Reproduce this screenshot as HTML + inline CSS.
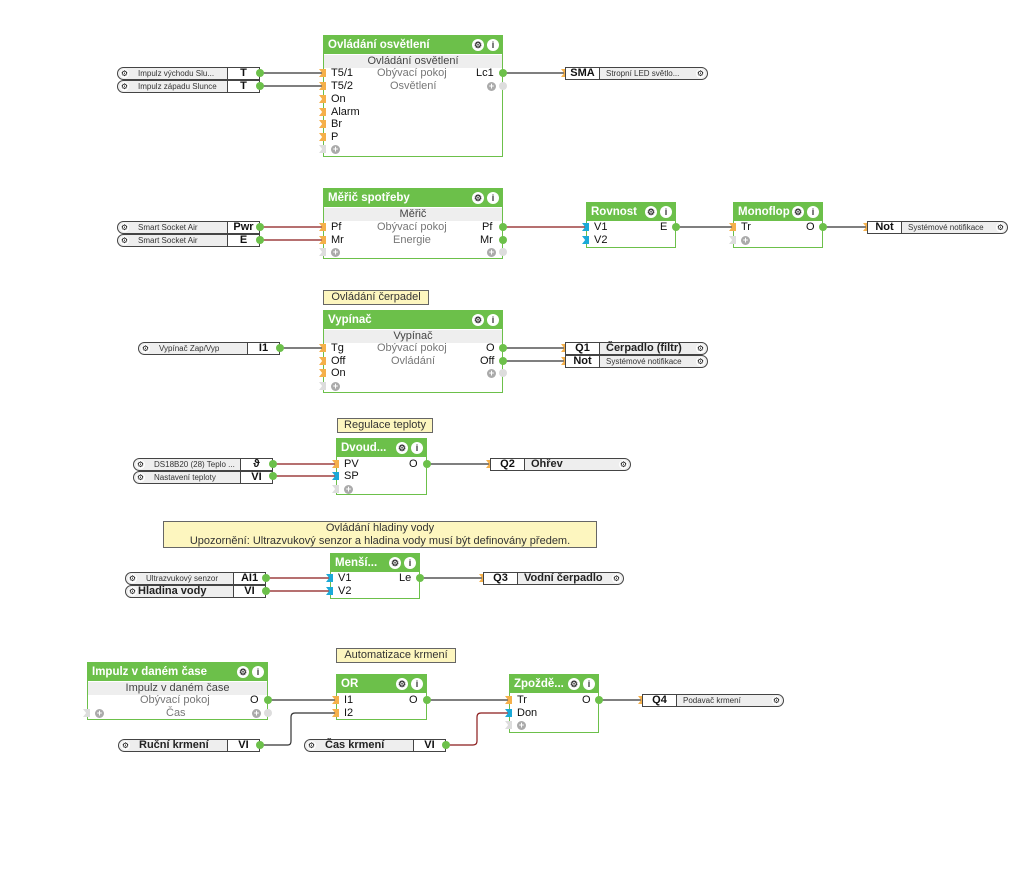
<!DOCTYPE html>
<html><head><meta charset="utf-8"><style>
body{margin:0;width:1032px;height:870px;background:#fff;position:relative;overflow:hidden;font-family:"Liberation Sans",sans-serif;color:#111}
div,span{box-sizing:border-box}
.b{position:absolute;border:1px solid #6cc04a;background:#fff}
.h{position:absolute;left:0;right:0;top:0;height:18px;background:#6cc04a;color:#fff;font-weight:bold;font-size:11.5px;line-height:18px;padding-left:4px;white-space:nowrap}
.ic{position:absolute;top:3px;width:12px;height:12px;border-radius:50%;background:#fff;color:#333;font-size:9px;line-height:12px;text-align:center;font-weight:bold}
.sub{position:absolute;left:0;right:0;height:13px;background:#eee;color:#444;font-size:11px;line-height:13px;text-align:center}
.t{position:absolute;font-size:11px;line-height:12px;white-space:nowrap}
.g{color:#777}
.pi{position:absolute;width:7px;height:8px;background:#f5b04a;clip-path:polygon(0 0,100% 0,100% 100%,0 100%,45% 50%)}
.pb{background:#1aa9d8}
.pg{background:#ddd}
.po{position:absolute;width:8px;height:8px;border-radius:50%;background:#6cc04a}
.pog{background:#ddd}
.plus{position:absolute;width:9px;height:9px;border-radius:50%;background:#aaa;color:#fff;font-size:9px;line-height:9px;text-align:center;font-weight:bold}
.in{position:absolute;height:13px;border:1px solid #444;border-radius:7px 0 0 7px;background:#eee;font-size:8px;line-height:11px;white-space:nowrap}
.in .gear,.out .gear{position:absolute;top:1px;width:9px;height:9px;border-radius:50%;background:#fff;font-size:8px;line-height:9px;text-align:center}
.in .n{position:absolute;left:20px;top:0;color:#333}
.in .l{position:absolute;right:0;top:0;height:11px;width:32px;border-left:1px solid #444;background:#fff;text-align:center;font-size:11px;font-weight:bold;line-height:11px}
.out{position:absolute;height:13px;border:1px solid #444;border-radius:0 7px 7px 0;background:#eee;font-size:8px;line-height:11px;white-space:nowrap}
.out .l{position:absolute;left:0;top:0;height:11px;width:34px;border-right:1px solid #444;background:#fff;text-align:center;font-size:11px;font-weight:bold;line-height:11px}
.out .n{position:absolute;left:40px;top:0;color:#333}
.bn{font-size:11px!important;font-weight:bold;line-height:11px;color:#222!important}
.cm{position:absolute;background:#fdf6bf;border:1px solid #666;font-size:11px;line-height:13px;text-align:center;color:#333}
</style></head><body>
<svg width="1032" height="870" style="position:absolute;left:0;top:0">
<g fill="none" stroke-width="1.2">
<path d="M260 73H323M260 86H323M502 73H565" stroke="#333"/>
<path d="M260 227H323M260 240H323" stroke="#8b1a1a"/>
<path d="M502 227H586" stroke="#8b1a1a"/>
<path d="M675 227H733M822 227H867" stroke="#333"/>
<path d="M280 348H323M502 348H565M502 361H565" stroke="#333"/>
<path d="M273 464H336M273 476H336" stroke="#8b1a1a"/>
<path d="M426 464H490" stroke="#333"/>
<path d="M266 578H330M266 591H330" stroke="#8b1a1a"/>
<path d="M419 578H483" stroke="#333"/>
<path d="M267 700H336M426 700H509M598 700H642" stroke="#333"/>
<path d="M260 745H288Q291 745 291 741V717Q291 713 295 713H336" stroke="#333"/>
<path d="M446 745H473Q477 745 477 741V717Q477 713 481 713H509" stroke="#8b1a1a"/>
</g></svg>

<!-- Block 1 -->
<div class="b" style="left:323px;top:35px;width:180px;height:122px">
<div class="h">Ovládání osvětlení<span class="ic" style="right:18px">⚙</span><span class="ic" style="right:3px">i</span></div>
<div class="sub" style="top:19px">Ovládání osvětlení</div></div>
<span class="t" style="left:331px;top:67px">T5/1</span><span class="t g" style="left:377px;top:67px">Obývací pokoj</span><span class="t" style="left:476px;top:67px">Lc1</span>
<span class="t" style="left:331px;top:80px">T5/2</span><span class="t g" style="left:390px;top:80px">Osvětlení</span>
<span class="t" style="left:331px;top:93px">On</span><span class="t" style="left:331px;top:106px">Alarm</span><span class="t" style="left:331px;top:118px">Br</span><span class="t" style="left:331px;top:131px">P</span>
<div class="pi" style="left:319px;top:69px"></div><div class="pi" style="left:319px;top:82px"></div><div class="pi" style="left:319px;top:95px"></div><div class="pi" style="left:319px;top:108px"></div><div class="pi" style="left:319px;top:120px"></div><div class="pi" style="left:319px;top:133px"></div><div class="pi pg" style="left:319px;top:145px"></div>
<div class="plus" style="left:331px;top:145px">+</div><div class="plus" style="left:487px;top:82px">+</div>
<div class="po" style="left:499px;top:69px"></div><div class="po pog" style="left:499px;top:82px"></div>
<div class="in" style="left:117px;top:67px;width:143px"><span class="gear" style="left:2px">⚙</span><span class="n">Impulz  východu  Slu...</span><span class="l">T</span></div>
<div class="in" style="left:117px;top:80px;width:143px"><span class="gear" style="left:2px">⚙</span><span class="n">Impulz západu Slunce</span><span class="l">T</span></div>
<div class="po" style="left:256px;top:69px"></div><div class="po" style="left:256px;top:82px"></div>
<div class="pi" style="left:561px;top:69px"></div>
<div class="out" style="left:565px;top:67px;width:143px"><span class="l">SMA</span><span class="n">Stropní  LED  světlo...</span><span class="gear" style="right:2px">⚙</span></div>

<!-- Block 2 -->
<div class="b" style="left:323px;top:188px;width:180px;height:71px">
<div class="h">Měřič spotřeby<span class="ic" style="right:18px">⚙</span><span class="ic" style="right:3px">i</span></div>
<div class="sub" style="top:19px">Měřič</div></div>
<span class="t" style="left:331px;top:221px">Pf</span><span class="t g" style="left:377px;top:221px">Obývací pokoj</span><span class="t" style="left:482px;top:221px">Pf</span>
<span class="t" style="left:331px;top:234px">Mr</span><span class="t g" style="left:393px;top:234px">Energie</span><span class="t" style="left:480px;top:234px">Mr</span>
<div class="pi" style="left:319px;top:223px"></div><div class="pi" style="left:319px;top:236px"></div><div class="pi pg" style="left:319px;top:248px"></div>
<div class="plus" style="left:331px;top:248px">+</div><div class="plus" style="left:487px;top:248px">+</div>
<div class="po" style="left:499px;top:223px"></div><div class="po" style="left:499px;top:236px"></div><div class="po pog" style="left:499px;top:248px"></div>
<div class="in" style="left:117px;top:221px;width:143px"><span class="gear" style="left:2px">⚙</span><span class="n">Smart Socket Air</span><span class="l">Pwr</span></div>
<div class="in" style="left:117px;top:234px;width:143px"><span class="gear" style="left:2px">⚙</span><span class="n">Smart Socket Air</span><span class="l">E</span></div>
<div class="po" style="left:256px;top:223px"></div><div class="po" style="left:256px;top:236px"></div>

<div class="b" style="left:586px;top:202px;width:90px;height:46px">
<div class="h">Rovnost<span class="ic" style="right:18px">⚙</span><span class="ic" style="right:3px">i</span></div></div>
<span class="t" style="left:594px;top:221px">V1</span><span class="t" style="left:660px;top:221px">E</span><span class="t" style="left:594px;top:234px">V2</span>
<div class="pi pb" style="left:582px;top:223px"></div><div class="pi pb" style="left:582px;top:236px"></div><div class="po" style="left:672px;top:223px"></div>

<div class="b" style="left:733px;top:202px;width:90px;height:46px">
<div class="h">Monoflop<span class="ic" style="right:18px">⚙</span><span class="ic" style="right:3px">i</span></div></div>
<span class="t" style="left:741px;top:221px">Tr</span><span class="t" style="left:806px;top:221px">O</span>
<div class="plus" style="left:741px;top:236px">+</div>
<div class="pi" style="left:729px;top:223px"></div><div class="pi pg" style="left:729px;top:236px"></div><div class="po" style="left:819px;top:223px"></div>
<div class="pi" style="left:863px;top:223px"></div>
<div class="out" style="left:867px;top:221px;width:141px"><span class="l">Not</span><span class="n">Systémové notifikace</span><span class="gear" style="right:2px">⚙</span></div>

<!-- Block 3 -->
<div class="cm" style="left:323px;top:290px;width:106px;height:15px">Ovládání čerpadel</div>
<div class="b" style="left:323px;top:310px;width:180px;height:83px">
<div class="h">Vypínač<span class="ic" style="right:18px">⚙</span><span class="ic" style="right:3px">i</span></div>
<div class="sub" style="top:19px">Vypínač</div></div>
<span class="t" style="left:331px;top:342px">Tg</span><span class="t g" style="left:377px;top:342px">Obývací pokoj</span><span class="t" style="left:486px;top:342px">O</span>
<span class="t" style="left:331px;top:355px">Off</span><span class="t g" style="left:391px;top:355px">Ovládání</span><span class="t" style="left:480px;top:355px">Off</span>
<span class="t" style="left:331px;top:367px">On</span>
<div class="pi" style="left:319px;top:344px"></div><div class="pi" style="left:319px;top:357px"></div><div class="pi" style="left:319px;top:369px"></div><div class="pi pg" style="left:319px;top:382px"></div>
<div class="plus" style="left:331px;top:382px">+</div><div class="plus" style="left:487px;top:369px">+</div>
<div class="po" style="left:499px;top:344px"></div><div class="po" style="left:499px;top:357px"></div><div class="po pog" style="left:499px;top:369px"></div>
<div class="in" style="left:138px;top:342px;width:142px"><span class="gear" style="left:2px">⚙</span><span class="n">Vypínač Zap/Vyp</span><span class="l">I1</span></div>
<div class="po" style="left:276px;top:344px"></div>
<div class="pi" style="left:561px;top:344px"></div><div class="pi" style="left:561px;top:357px"></div>
<div class="out" style="left:565px;top:342px;width:143px"><span class="l">Q1</span><span class="n bn">Čerpadlo (filtr)</span><span class="gear" style="right:2px">⚙</span></div>
<div class="out" style="left:565px;top:355px;width:143px"><span class="l">Not</span><span class="n">Systémové notifikace</span><span class="gear" style="right:2px">⚙</span></div>

<!-- Block 4 -->
<div class="cm" style="left:337px;top:418px;width:96px;height:15px">Regulace teploty</div>
<div class="b" style="left:336px;top:438px;width:91px;height:57px">
<div class="h">Dvoud...<span class="ic" style="right:18px">⚙</span><span class="ic" style="right:3px">i</span></div></div>
<span class="t" style="left:344px;top:458px">PV</span><span class="t" style="left:409px;top:458px">O</span><span class="t" style="left:344px;top:470px">SP</span>
<div class="plus" style="left:344px;top:485px">+</div>
<div class="pi" style="left:332px;top:460px"></div><div class="pi pb" style="left:332px;top:472px"></div><div class="pi pg" style="left:332px;top:485px"></div><div class="po" style="left:423px;top:460px"></div>
<div class="in" style="left:133px;top:458px;width:140px"><span class="gear" style="left:2px">⚙</span><span class="n">DS18B20  (28)  Teplo ...</span><span class="l">ϑ</span></div>
<div class="in" style="left:133px;top:471px;width:140px"><span class="gear" style="left:2px">⚙</span><span class="n">Nastavení teploty</span><span class="l">VI</span></div>
<div class="po" style="left:269px;top:460px"></div><div class="po" style="left:269px;top:472px"></div>
<div class="pi" style="left:486px;top:460px"></div>
<div class="out" style="left:490px;top:458px;width:141px"><span class="l">Q2</span><span class="n bn">Ohřev</span><span class="gear" style="right:2px">⚙</span></div>

<!-- Block 5 -->
<div class="cm" style="left:163px;top:521px;width:434px;height:27px">Ovládání hladiny vody<br>Upozornění: Ultrazvukový senzor a hladina vody musí být definovány předem.</div>
<div class="b" style="left:330px;top:553px;width:90px;height:46px">
<div class="h">Menší...<span class="ic" style="right:18px">⚙</span><span class="ic" style="right:3px">i</span></div></div>
<span class="t" style="left:338px;top:572px">V1</span><span class="t" style="left:399px;top:572px">Le</span><span class="t" style="left:338px;top:585px">V2</span>
<div class="pi pb" style="left:326px;top:574px"></div><div class="pi pb" style="left:326px;top:587px"></div><div class="po" style="left:416px;top:574px"></div>
<div class="in" style="left:125px;top:572px;width:141px"><span class="gear" style="left:2px">⚙</span><span class="n">Ultrazvukový senzor</span><span class="l">AI1</span></div>
<div class="in" style="left:125px;top:585px;width:141px"><span class="gear" style="left:2px">⚙</span><span class="n bn" style="left:12px">Hladina vody</span><span class="l">VI</span></div>
<div class="po" style="left:262px;top:574px"></div><div class="po" style="left:262px;top:587px"></div>
<div class="pi" style="left:479px;top:574px"></div>
<div class="out" style="left:483px;top:572px;width:141px"><span class="l">Q3</span><span class="n bn">Vodní čerpadlo</span><span class="gear" style="right:2px">⚙</span></div>

<!-- Block 6 -->
<div class="cm" style="left:336px;top:648px;width:120px;height:15px">Automatizace krmení</div>
<div class="b" style="left:87px;top:662px;width:181px;height:58px">
<div class="h">Impulz v daném čase<span class="ic" style="right:18px">⚙</span><span class="ic" style="right:3px">i</span></div>
<div class="sub" style="top:19px">Impulz v daném čase</div></div>
<span class="t g" style="left:140px;top:694px">Obývací pokoj</span><span class="t" style="left:250px;top:694px">O</span>
<span class="t g" style="left:166px;top:707px">Čas</span>
<div class="plus" style="left:95px;top:709px">+</div><div class="plus" style="left:252px;top:709px">+</div>
<div class="pi pg" style="left:83px;top:709px"></div><div class="po" style="left:264px;top:696px"></div><div class="po pog" style="left:264px;top:709px"></div>

<div class="b" style="left:336px;top:674px;width:91px;height:46px">
<div class="h">OR<span class="ic" style="right:18px">⚙</span><span class="ic" style="right:3px">i</span></div></div>
<span class="t" style="left:344px;top:694px">I1</span><span class="t" style="left:409px;top:694px">O</span><span class="t" style="left:344px;top:707px">I2</span>
<div class="pi" style="left:332px;top:696px"></div><div class="pi" style="left:332px;top:709px"></div><div class="po" style="left:423px;top:696px"></div>

<div class="b" style="left:509px;top:674px;width:90px;height:59px">
<div class="h">Zpoždě...<span class="ic" style="right:18px">⚙</span><span class="ic" style="right:3px">i</span></div></div>
<span class="t" style="left:517px;top:694px">Tr</span><span class="t" style="left:582px;top:694px">O</span><span class="t" style="left:517px;top:707px">Don</span>
<div class="plus" style="left:517px;top:721px">+</div>
<div class="pi" style="left:505px;top:696px"></div><div class="pi pb" style="left:505px;top:709px"></div><div class="pi pg" style="left:505px;top:721px"></div><div class="po" style="left:595px;top:696px"></div>
<div class="pi" style="left:638px;top:696px"></div>
<div class="out" style="left:642px;top:694px;width:142px"><span class="l">Q4</span><span class="n">Podavač krmení</span><span class="gear" style="right:2px">⚙</span></div>

<div class="in" style="left:118px;top:739px;width:142px"><span class="gear" style="left:2px">⚙</span><span class="n bn" style="left:20px">Ruční krmení</span><span class="l">VI</span></div>
<div class="po" style="left:256px;top:741px"></div>
<div class="in" style="left:304px;top:739px;width:142px"><span class="gear" style="left:2px">⚙</span><span class="n bn" style="left:20px">Čas krmení</span><span class="l">VI</span></div>
<div class="po" style="left:442px;top:741px"></div>
</body></html>
